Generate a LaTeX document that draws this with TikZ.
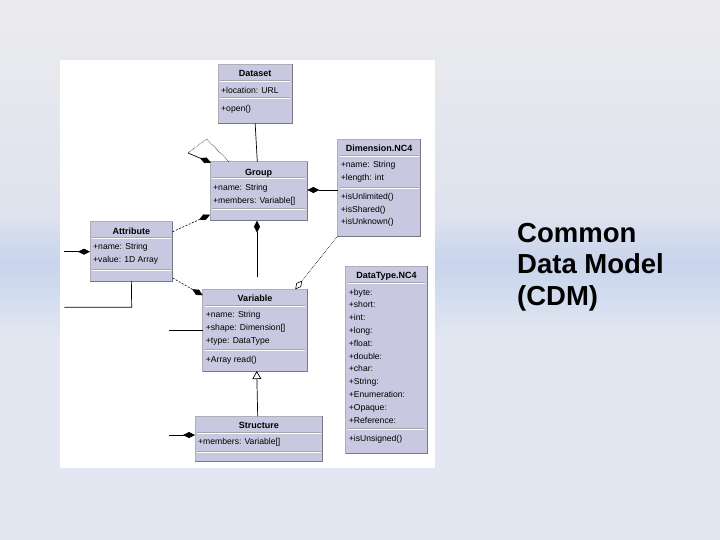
\documentclass[tikz,border=0pt]{standalone}
\usepackage{fontspec}
\setmainfont{Liberation Sans}
\usepackage{tikz}
\usetikzlibrary{arrows.meta,calc}

\definecolor{boxfill}{RGB}{200,200,224}
\definecolor{boxedge}{RGB}{120,120,135}
\definecolor{slidetop}{RGB}{236,236,238}
\definecolor{slideband}{RGB}{200,212,236}
\definecolor{slidebot}{RGB}{226,231,241}

\tikzset{
  classbox/.style={anchor=north west,fill=boxfill,draw=boxedge!60,line width=0.6pt,inner sep=0pt,outer sep=0pt},
  classname/.style={font=\fontsize{9}{10}\selectfont\bfseries,inner sep=0pt,anchor=base},
  member/.style={font=\fontsize{8.6}{10}\selectfont,inner sep=0pt,anchor=base west},
  link/.style={line width=0.7pt},
  dotlink/.style={line width=0.6pt,densely dotted},
  dashlink/.style={line width=0.6pt,dash pattern=on 2pt off 1.5pt},
  composite/.style={-{Diamond[length=12pt,width=6pt]}},
  shared/.style={-{Diamond[open,length=11pt,width=6pt]}},
  inherits/.style={-{Triangle[open,length=8pt,width=9pt]}},
  slidetext/.style={font=\fontsize{27.5}{31}\selectfont\bfseries,inner sep=0pt,anchor=base west}
}

% separator inside a class box: \sepline{box}{offset from top}
\newcommand{\sepline}[2]{%
  \draw[gray!70,line width=0.5pt] ($(#1.north west)+(2,#2-0.6)$) -- ($(#1.north east)+(-2,#2-0.6)$);
  \draw[white,line width=0.8pt] ($(#1.north west)+(2,#2+0.4)$) -- ($(#1.north east)+(-2,#2+0.4)$);}
% darker right and bottom edge of a class box
\newcommand{\boxshade}[1]{%
  \draw[boxedge,line width=0.9pt] (#1.north east) -- (#1.south east) -- (#1.south west);}

\begin{document}
\begin{tikzpicture}[x=1pt,y=-1pt]
  \useasboundingbox (0,0) rectangle (720,540);

  % >>> slide background
  \shade[top color=slidetop,bottom color=slidetop!60!slideband] (0,0) rectangle (720,215);
  \shade[top color=slidetop!60!slideband,bottom color=slideband] (0,215) rectangle (720,262);
  \shade[top color=slideband,bottom color=slidebot] (0,262) rectangle (720,340);
  \fill[slidebot] (0,340) rectangle (720,540);
  \fill[white] (60,60) rectangle (435,468);
  % <<< slide background

  % >>> classes
  \node[classbox,minimum width=74.3pt,minimum height=59pt] (dataset) at (218,64.3) {};
  \node[classbox,minimum width=97.3pt,minimum height=59pt] (group) at (210,161.7) {};
  \node[classbox,minimum width=83pt,minimum height=96.7pt] (dimension) at (337.7,139.3) {};
  \node[classbox,minimum width=82.7pt,minimum height=59.3pt] (attribute) at (90,221.7) {};
  \node[classbox,minimum width=104.6pt,minimum height=81.7pt] (variable) at (202.7,289.3) {};
  \node[classbox,minimum width=81.6pt,minimum height=187.3pt] (datatype) at (345.7,266) {};
  \node[classbox,minimum width=127.7pt,minimum height=45pt] (structure) at (195,416) {};
  \foreach \b in {dataset,group,dimension,attribute,variable,datatype,structure}
    {\boxshade{\b}}

  \sepline{dataset}{16.4} \sepline{dataset}{34}
  \sepline{group}{16.6} \sepline{group}{47.3}
  \sepline{dimension}{16.4} \sepline{dimension}{48.4}
  \sepline{attribute}{16} \sepline{attribute}{48.3}
  \sepline{variable}{16.4} \sepline{variable}{60.7}
  \sepline{datatype}{17.3} \sepline{datatype}{163.3}
  \sepline{structure}{17.3} \sepline{structure}{35.7}
  % <<< classes

  % >>> class texts
  \node[classname] (datasetName) at (255.2,76.3) {Dataset};
  \node[member] (datasetLoc) at (221,93.3) {+location: URL};
  \node[member] (datasetOpen) at (221,111.3) {+open()};

  \node[classname] (groupName) at (258.7,175.3) {Group};
  \node[member] (groupA1) at (213,190.3) {+name: String};
  \node[member] (groupA2) at (213,203.3) {+members: Variable[]};

  \node[classname] (dimName) at (379.2,151.3) {Dimension.NC4};
  \node[member] (dimA1) at (340.7,167.3) {+name: String};
  \node[member] (dimA2) at (340.7,180.3) {+length: int};
  \node[member] (dimM1) at (340.7,199.3) {+isUnlimited()};
  \node[member] (dimM2) at (340.7,212.3) {+isShared()};
  \node[member] (dimM3) at (340.7,224.3) {+isUnknown()};

  \node[classname] (attrName) at (131.3,234.3) {Attribute};
  \node[member] (attrA1) at (93,249.3) {+name: String};
  \node[member] (attrA2) at (93,262.3) {+value: 1D Array};

  \node[classname] (varName) at (255,301.3) {Variable};
  \node[member] (varA1) at (205.7,317.3) {+name: String};
  \node[member] (varA2) at (205.7,330.3) {+shape: Dimension[]};
  \node[member] (varA3) at (205.7,343.3) {+type: DataType};
  \node[member] (varM1) at (205.7,362.3) {+Array read()};

  \node[classname] (dtName) at (386.5,278.3) {DataType.NC4};
  \foreach \t [count=\i from 0] in {byte,short,int,long,float,double,char,String,Enumeration,Opaque,Reference}
    \node[member] (dt\i) at (348.7,295+12.8*\i) {+\t:};
  \node[member] (dtM1) at (348.7,441.6) {+isUnsigned()};

  \node[classname] (structName) at (258.8,428.3) {Structure};
  \node[member] (structA1) at (198,444.3) {+members: Variable[]};
  % <<< class texts

  % >>> associations
  \draw[link] (dataset.south) -- ($(group.north west)+(47.3,0)$);
  \coordinate (loopA) at (206.5,139);
  \coordinate (loopB) at (188,153);
  \draw[dotlink] ($(group.north west)+(19,0)$) -- (loopA) -- (loopB);
  \draw[link,composite] (loopB) -- ($(group.north west)+(1,1)$);
  \draw[link,composite] ($(dimension.north west)+(0,50.7)$) -- ($(group.north east)+(0,28.3)$);
  \draw[dashlink,composite] ($(attribute.north east)+(0,10)$) -- ($(group.south west)+(0,-6)$);
  \draw[dashlink,composite] ($(attribute.south east)+(0,-3)$) -- ($(variable.north west)+(0,6)$);
  \coordinate (varTop) at (257,276.7);
  \draw[link,composite] (varTop) -- ($(group.south west)+(47,0)$);
  \draw[dotlink,shared] (dimension.south west) -- ($(variable.north east)+(-12,0)$);
  \draw[link,inherits] ($(structure.north west)+(62.7,0)$) -- ($(variable.south west)+(54,0)$);
  % <<< associations

  % >>> loose ends on the left
  \coordinate (attrIn) at (64.3,251.7);
  \coordinate (attrDown) at (131.7,307.3);
  \coordinate (attrOut) at (64.3,307.3);
  \coordinate (varIn) at (169.3,330);
  \coordinate (structIn) at (169.3,435);
  \draw[link,composite] (attrIn) -- ($(attribute.north west)+(0,30)$);
  \draw[link] (attribute.south) -- (attrDown) -- (attrOut);
  \draw[link] (varIn) -- ($(variable.north west)+(0,40.7)$);
  \draw[link,composite] (structIn) -- ($(structure.north west)+(0,19)$);
  % <<< loose ends on the left

  % >>> slide title
  \node[slidetext] (cdmA) at (517,242) {Common};
  \node[slidetext] (cdmB) at (517,273.5) {Data Model};
  \node[slidetext] (cdmC) at (517,305) {(CDM)};
  % <<< slide title
\end{tikzpicture}
\end{document}
